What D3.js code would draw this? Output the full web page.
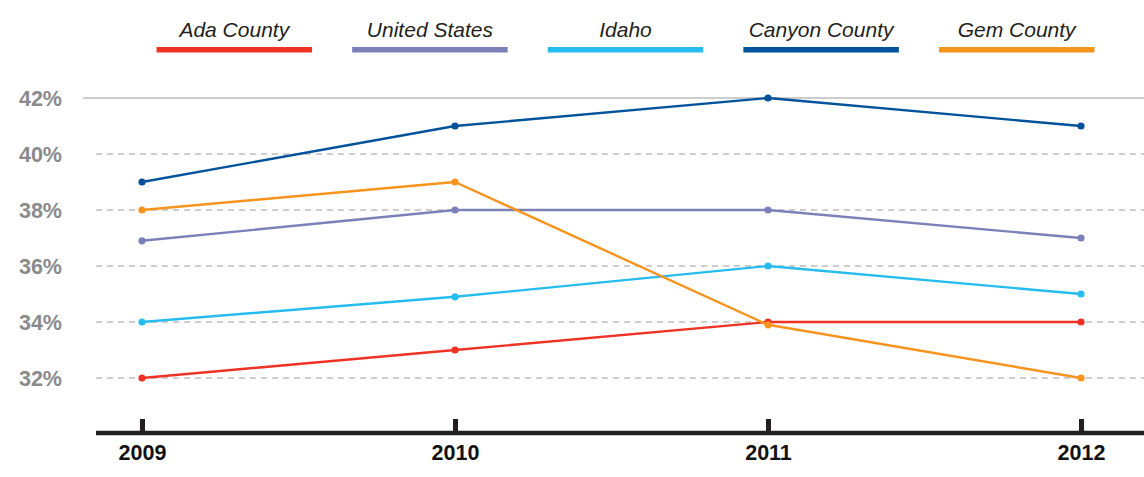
<!DOCTYPE html>
<html>
<head>
<meta charset="utf-8">
<script src="https://cdn.jsdelivr.net/npm/d3@7"></script>
<style>
  body { margin: 0; background: #fff; overflow: hidden; }
  svg { display: block; font-family: "Liberation Sans", Arial, sans-serif; }
</style>
</head>
<body>
<svg id="chart" width="1144" height="477"></svg>
<script>
// data
const years = [2009, 2010, 2011, 2012];
const seriesNames = ["Ada County", "United States", "Idaho", "Canyon County", "Gem County"];
const seriesColors = ["#ee3224", "#7b80b9", "#27bcee", "#00529b", "#f7941d"];
const adaCounty = [32, 33, 34, 34];
const unitedStates = [36.9, 38, 38, 37];
const idaho = [34, 34.9, 36, 35];
const canyonCounty = [39, 41, 42, 41];
const gemCounty = [38, 39, 33.9, 32];
const yTicks = [32, 34, 36, 38, 40, 42];

const seriesValues = [adaCounty, unitedStates, idaho, canyonCounty, gemCounty];

(function(){
  const svg = d3.select("#chart");

  const xScale = d3.scalePoint().domain(years).range([142, 1081]);
  const yScale = d3.scaleLinear().domain([32, 42]).range([378, 98]);

  // gridlines - top one solid, the rest dashed
  const grid = svg.append("g");
  grid.selectAll("line")
    .data(yTicks)
    .join("line")
    .attr("x1", d => d === 42 ? 83 : 96)
    .attr("x2", 1144)
    .attr("y1", d => yScale(d))
    .attr("y2", d => yScale(d))
    .attr("stroke", "#bdbdbd")
    .attr("stroke-width", 1.3)
    .attr("stroke-dasharray", d => d === 42 ? null : "6,5");

  // y labels
  const yAxis = d3.axisLeft(yScale)
    .tickValues(yTicks)
    .tickFormat(d => d + "%")
    .tickSize(0)
    .tickPadding(0);
  const gY = svg.append("g")
    .attr("transform", "translate(62,0)")
    .call(yAxis);
  gY.select(".domain").remove();
  gY.selectAll("text")
    .attr("fill", "#8a8a8c")
    .attr("font-size", 21.5)
    .attr("font-weight", "bold")
    .attr("font-family", "Liberation Sans, Arial, sans-serif")
    .attr("dy", "0.36em");

  // x axis at the bottom
  const xAxis = d3.axisBottom(xScale)
    .tickSize(0)
    .tickPadding(0)
    .tickFormat(d3.format("d"));
  const gX = svg.append("g")
    .attr("transform", "translate(0,433)")
    .call(xAxis);
  gX.select(".domain").remove();
  gX.append("line")
    .attr("x1", 96).attr("x2", 1144)
    .attr("stroke", "#231f20")
    .attr("stroke-width", 4.5);
  gX.selectAll(".tick").append("line")
    .attr("y1", -14).attr("y2", 0)
    .attr("stroke", "#231f20")
    .attr("stroke-width", 5);
  gX.selectAll(".tick text")
    .attr("fill", "#111")
    .attr("font-size", 21.5)
    .attr("font-weight", "bold")
    .attr("font-family", "Liberation Sans, Arial, sans-serif")
    .attr("y", 12);

  // series lines and dots
  const line = d3.line()
    .x((d, i) => xScale(years[i]))
    .y(d => yScale(d));

  const series = svg.append("g").selectAll("g")
    .data(seriesValues)
    .join("g");

  series.append("path")
    .attr("d", d => line(d))
    .attr("fill", "none")
    .attr("stroke", (d, i) => seriesColors[i])
    .attr("stroke-width", 2.4)
    .attr("stroke-linejoin", "round");

  series.each(function(vals, si) {
    d3.select(this).selectAll("circle")
      .data(vals)
      .join("circle")
      .attr("cx", (d, i) => xScale(years[i]))
      .attr("cy", d => yScale(d))
      .attr("r", 3.6)
      .attr("fill", seriesColors[si]);
  });

  // legend along the top
  const legendX = d3.scaleBand()
    .domain(seriesNames)
    .range([137, 1114])
    .paddingInner(0.205)
    .paddingOuter(0.1);

  const legend = svg.append("g").selectAll("g")
    .data(seriesNames)
    .join("g")
    .attr("transform", d => "translate(" + legendX(d) + ",0)");

  legend.append("rect")
    .attr("y", 47)
    .attr("width", legendX.bandwidth())
    .attr("height", 5.5)
    .attr("fill", (d, i) => seriesColors[i]);

  legend.append("text")
    .attr("x", legendX.bandwidth() / 2)
    .attr("y", 37)
    .attr("text-anchor", "middle")
    .attr("font-size", 21)
    .attr("font-style", "italic")
    .attr("fill", "#231f20")
    .text(d => d);
})();
</script>
</body>
</html>
